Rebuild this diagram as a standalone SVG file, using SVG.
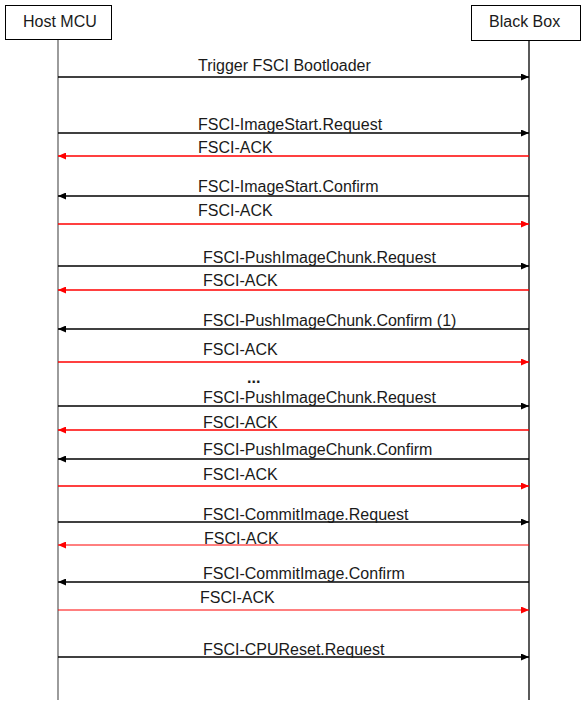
<svg xmlns="http://www.w3.org/2000/svg" width="585" height="710" viewBox="0 0 585 710">
<style>
.box{fill:#fff;stroke:#000;stroke-width:1}
.hdr{font-family:"Liberation Sans",Arial,sans-serif;font-size:16px;fill:#1a1a1a}
.lbl{font-family:"Liberation Sans",Arial,sans-serif;font-size:16px;fill:#1a1a1a}
.blk{stroke:#000;stroke-width:1.3;fill:none}
.red{stroke:#f00;stroke-width:1.3;fill:none}
.redt{stroke:#f00;stroke-width:1;fill:none}
</style>
<defs>
<marker id="ab" viewBox="0 0 8 7" refX="8" refY="3.5" markerWidth="8" markerHeight="7" markerUnits="userSpaceOnUse" orient="auto"><path d="M0,0 L8,3.5 L0,7 z" fill="#000"/></marker>
<marker id="ar" viewBox="0 0 8 7" refX="8" refY="3.5" markerWidth="8" markerHeight="7" markerUnits="userSpaceOnUse" orient="auto"><path d="M0,0 L8,3.5 L0,7 z" fill="#f00"/></marker>
</defs>
<rect width="585" height="710" fill="#fff"/>
<g id="host-mcu">
<line x1="58" y1="40" x2="58" y2="700" stroke="#666" stroke-width="1.3"/>
<rect class="box" x="5.5" y="5.5" width="106" height="34"/>
<text class="hdr" x="23" y="27">Host MCU</text>
</g>
<g id="black-box">
<line x1="529" y1="41" x2="529" y2="700" stroke="#000" stroke-width="1.3"/>
<rect class="box" x="471.5" y="5.5" width="109" height="35"/>
<text class="hdr" x="489" y="27">Black Box</text>
</g>
<g id="connectors">
<line class="blk" x1="58" y1="77" x2="529" y2="77" marker-end="url(#ab)"/>
<line class="blk" x1="58" y1="133" x2="529" y2="133" marker-end="url(#ab)"/>
<line class="red" x1="529" y1="156" x2="58" y2="156" marker-end="url(#ar)"/>
<line class="blk" x1="529" y1="196" x2="58" y2="196" marker-end="url(#ab)"/>
<line class="red" x1="58" y1="224" x2="529" y2="224" marker-end="url(#ar)"/>
<line class="blk" x1="58" y1="266" x2="529" y2="266" marker-end="url(#ab)"/>
<line class="red" x1="529" y1="290" x2="58" y2="290" marker-end="url(#ar)"/>
<line class="blk" x1="529" y1="329" x2="58" y2="329" marker-end="url(#ab)"/>
<line class="red" x1="58" y1="362" x2="529" y2="362" marker-end="url(#ar)"/>
<line class="blk" x1="58" y1="406" x2="529" y2="406" marker-end="url(#ab)"/>
<line class="red" x1="529" y1="430" x2="58" y2="430" marker-end="url(#ar)"/>
<line class="blk" x1="529" y1="459" x2="58" y2="459" marker-end="url(#ab)"/>
<line class="red" x1="58" y1="486" x2="529" y2="486" marker-end="url(#ar)"/>
<line class="blk" x1="58" y1="522" x2="529" y2="522" marker-end="url(#ab)"/>
<line class="redt" x1="529" y1="545" x2="58" y2="545" marker-end="url(#ar)"/>
<line class="blk" x1="529" y1="582" x2="58" y2="582" marker-end="url(#ab)"/>
<line class="redt" x1="58" y1="610" x2="529" y2="610" marker-end="url(#ar)"/>
<line class="blk" x1="58" y1="657" x2="529" y2="657" marker-end="url(#ab)"/>
<text class="lbl" x="198" y="71">Trigger FSCI Bootloader</text>
<text class="lbl" x="198" y="130">FSCI-ImageStart.Request</text>
<text class="lbl" x="198" y="153">FSCI-ACK</text>
<text class="lbl" x="198" y="192">FSCI-ImageStart.Confirm</text>
<text class="lbl" x="198" y="216">FSCI-ACK</text>
<text class="lbl" x="203" y="263">FSCI-PushImageChunk.Request</text>
<text class="lbl" x="203" y="286">FSCI-ACK</text>
<text class="lbl" x="203" y="326">FSCI-PushImageChunk.Confirm (1)</text>
<text class="lbl" x="203" y="355">FSCI-ACK</text>
<text class="lbl" x="247" y="383" font-weight="bold">...</text>
<text class="lbl" x="203" y="403">FSCI-PushImageChunk.Request</text>
<text class="lbl" x="203" y="428">FSCI-ACK</text>
<text class="lbl" x="203" y="455">FSCI-PushImageChunk.Confirm</text>
<text class="lbl" x="203" y="480">FSCI-ACK</text>
<text class="lbl" x="203" y="520">FSCI-CommitImage.Request</text>
<text class="lbl" x="204" y="544">FSCI-ACK</text>
<text class="lbl" x="203" y="579">FSCI-CommitImage.Confirm</text>
<text class="lbl" x="200" y="603">FSCI-ACK</text>
<text class="lbl" x="203" y="655">FSCI-CPUReset.Request</text>
</g>
</svg>
